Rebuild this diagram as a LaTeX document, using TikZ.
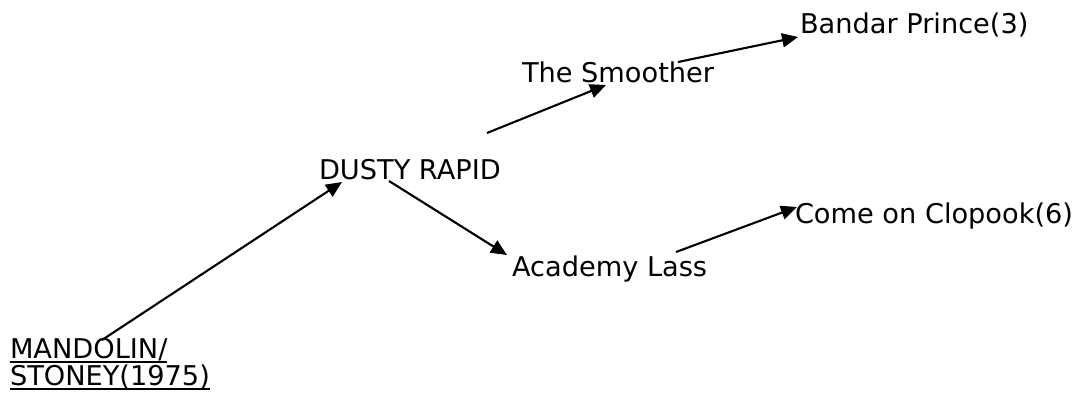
\documentclass[tikz,border=0pt]{standalone}
\usepackage{fontspec}
\setmainfont{DejaVu Sans}
\usetikzlibrary{arrows.meta}
\begin{document}
\begin{tikzpicture}[x=1pt,y=-1pt,
  lbl/.style={anchor=base west,inner sep=0pt,outer sep=0pt,font=\fontsize{27.2}{28}\selectfont},
  conn/.style={line width=2.1pt,-{Triangle[length=16pt,width=14pt]}},
  uline/.style={line width=1.8pt}]
\useasboundingbox (0,0) rectangle (1078,399);
\node[lbl] (mand1) at (10,358) {MANDOLIN/};
\node[lbl] (mand2) at (10,385) {STONEY(1975)};
\node[lbl] (dusty) at (319,179) {DUSTY RAPID};
\node[lbl] (smoother) at (522,82) {The Smoother};
\node[lbl] (bandar) at (800,33) {Bandar Prince(3)};
\node[lbl] (academy) at (512,276) {Academy Lass};
\node[lbl] (come) at (795,223) {Come on Clopook(6)};
\draw[uline] ([shift={(0,4)}]mand1.base west) -- ([shift={(0,4)}]mand1.base east);
\draw[uline] ([shift={(0,4)}]mand2.base west) -- ([shift={(0,4)}]mand2.base east);
\draw[conn] ([shift={(92,-18)}]mand1.base west) -- ([shift={(23,3)}]dusty.base west);
\draw[conn] ([shift={(70,2)}]dusty.base west) -- ([shift={(-5,-21)}]academy.base west);
\draw[conn] ([shift={(168,-46)}]dusty.base west) -- ([shift={(84,3)}]smoother.base west);
\draw[conn] ([shift={(156,-20)}]smoother.base west) -- ([shift={(-2,4)}]bandar.base west);
\draw[conn] ([shift={(164,-24)}]academy.base west) -- ([shift={(2,-16)}]come.base west);
\end{tikzpicture}
\end{document}
